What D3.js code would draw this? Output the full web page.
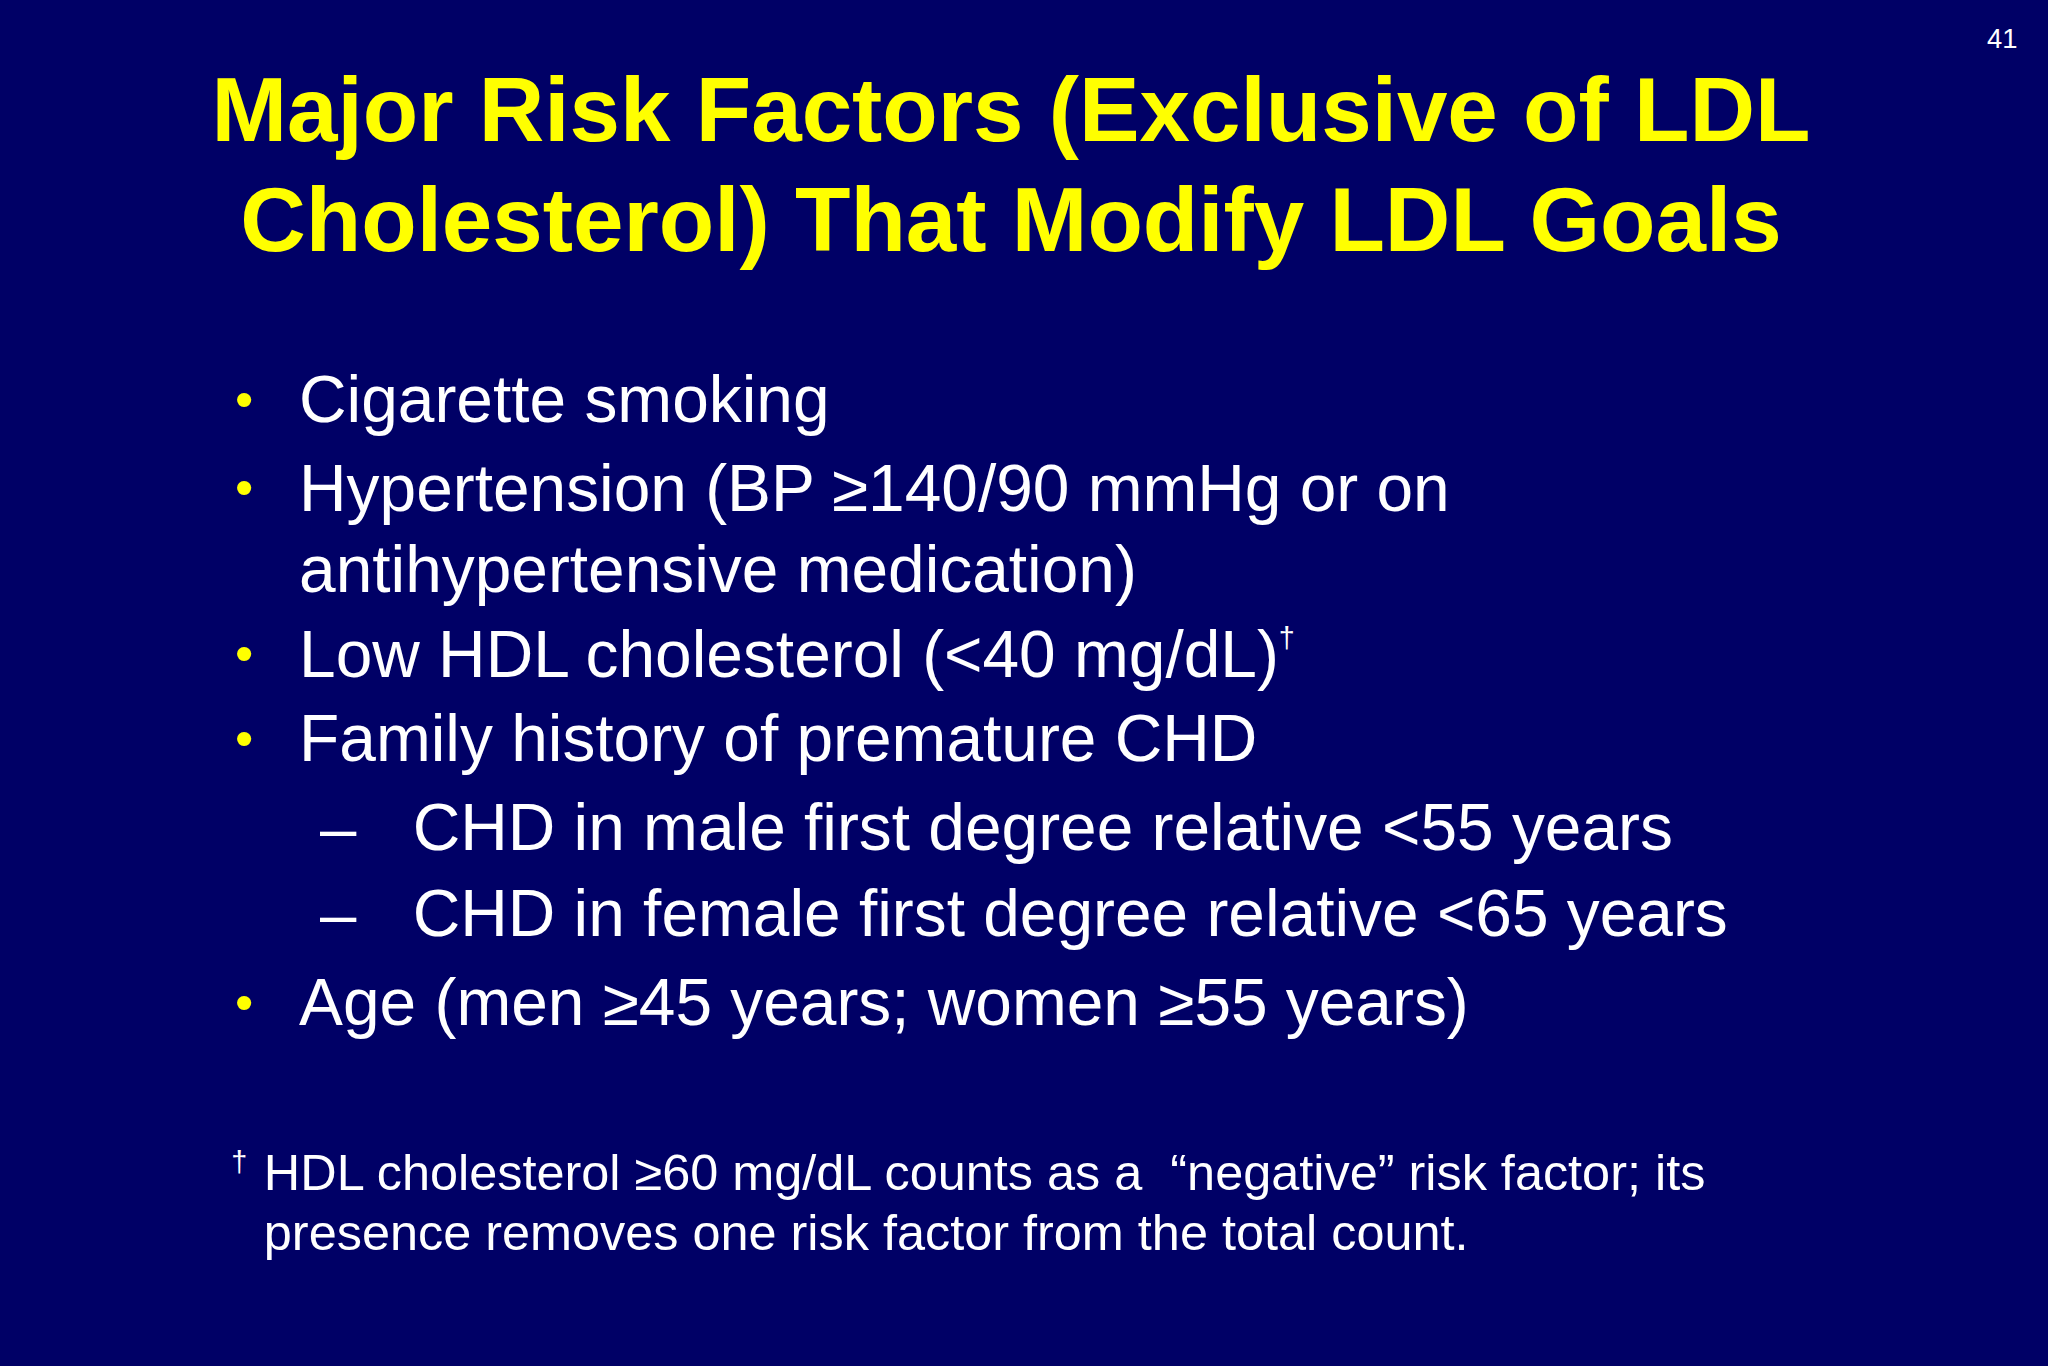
<!DOCTYPE html>
<html><head><meta charset="utf-8">
<script src="https://cdn.jsdelivr.net/npm/d3@7"></script>
<style>html,body{margin:0;padding:0;background:#000066;overflow:hidden}</style>
</head><body>
<script>
const titleLines = ["Major Risk Factors (Exclusive of LDL", "Cholesterol) That Modify LDL Goals"];
const itemTexts = ["Cigarette smoking","Hypertension (BP \u2265140/90 mmHg or on","antihypertensive medication)","Low HDL cholesterol (<40 mg/dL)","Family history of premature CHD","CHD in male first degree relative <55 years","CHD in female first degree relative <65 years","Age (men \u226545 years; women \u226555 years)"];
const itemLevels = [1,1,0,1,1,2,2,1]; // 1 bullet, 2 dash, 0 continuation
const itemSup = ["","","","\u2020","","","",""];
const footLines = ["HDL cholesterol \u226560 mg/dL counts as a  \u201cnegative\u201d risk factor; its","presence removes one risk factor from the total count."];
const pageNum = "41";

const W=2048,H=1366,S=W/1568;
const svg=d3.select("body").append("svg").attr("width",W).attr("height",H);
svg.append("rect").attr("width",W).attr("height",H).attr("fill","#000066");
const F="Liberation Sans, Arial, sans-serif";
svg.append("text").attr("x",1533*S).attr("y",37*S).attr("text-anchor","middle").attr("fill","#fff").attr("font-family",F).attr("font-size",21*S).text(pageNum);
const ty=d3.scaleLinear().domain([0,1]).range([108*S,192*S]);
svg.selectAll(".t").data(titleLines).join("text").attr("x",774*S).attr("y",(d,i)=>ty(i)).attr("text-anchor","middle")
 .attr("fill","#ffff00").attr("font-family",F).attr("font-weight","bold").attr("font-size",69.5*S).text(d=>d);
const baselines=[323,391,453,518,583,651,717,785];
const y=d3.scaleOrdinal().domain(d3.range(itemTexts.length)).range(baselines.map(b=>b*S));
const g=svg.selectAll(".it").data(itemTexts).join("g");
g.each(function(d,i){
  const s=d3.select(this),lv=itemLevels[i],yy=y(i);
  if(lv===1) s.append("text").attr("x",180*S).attr("y",yy-4*S).attr("fill","#ffff00").attr("font-family",F).attr("font-size",40*S).text("\u2022");
  if(lv===2) s.append("text").attr("x",245*S).attr("y",yy).attr("fill","#fff").attr("font-family",F).attr("font-size",50*S).text("\u2013");
  const t=s.append("text").attr("x",(lv===2?316:229)*S).attr("y",yy).attr("fill","#fff").attr("font-family",F).attr("font-size",50.4*S).text(d);
  if(itemSup[i]) t.append("tspan").attr("font-size",22*S).attr("dy",-22*S).text(itemSup[i]);
});
svg.append("text").attr("x",177*S).attr("y",897*S).attr("fill","#fff").attr("font-family",F).attr("font-size",22*S).text("\u2020");
svg.selectAll(".f").data(footLines).join("text").attr("x",202*S).attr("y",(d,i)=>(911+i*46)*S)
 .attr("xml:space","preserve").style("white-space","pre")
 .attr("fill","#fff").attr("font-family",F).attr("font-size",38.6*S).text(d=>d);
</script>
</body></html>
